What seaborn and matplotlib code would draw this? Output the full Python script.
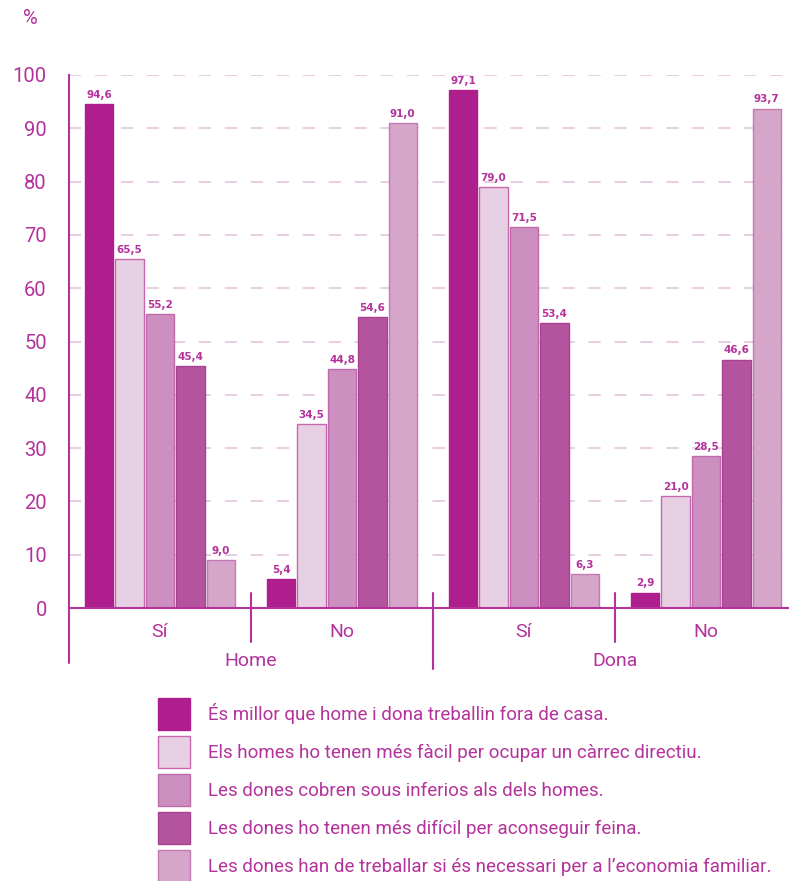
import matplotlib
matplotlib.use("Agg")
import matplotlib.pyplot as plt
import matplotlib.transforms as mtransforms
from matplotlib.patches import Patch
import seaborn as sns
import pandas as pd

groups = ["Home Sí", "Home No", "Dona Sí", "Dona No"]
tick_labels = ["Sí", "No", "Sí", "No"]
sex_labels = ["Home", "Dona"]
statements = [
    "És millor que home i dona treballin fora de casa.",
    "Els homes ho tenen més fàcil per ocupar un càrrec directiu.",
    "Les dones cobren sous inferios als dels homes.",
    "Les dones ho tenen més difícil per aconseguir feina.",
    "Les dones han de treballar si és necessari per a l’economia familiar.",
]
s1 = [94.6, 5.4, 97.1, 2.9]
s2 = [65.5, 34.5, 79.0, 21.0]
s3 = [55.2, 44.8, 71.5, 28.5]
s4 = [45.4, 54.6, 53.4, 46.6]
s5 = [9.0, 91.0, 6.3, 93.7]
series = [s1, s2, s3, s4, s5]

colors = ["#ae1f8d", "#e8d0e4", "#cd8fbf", "#b4549e", "#d5a6ca"]
edges = ["#ae1f8d", "#c765ad", "#c068ac", "#a8418f", "#c27ab4"]
txt = "#b4329b"

rows = []
for st, vals in zip(statements, series):
    for g, v in zip(groups, vals):
        rows.append({"grup": g, "afirmacio": st, "valor": v})
df = pd.DataFrame(rows)

sns.set_style("white")
plt.rcParams["font.family"] = ["Roboto", "DejaVu Sans"]

W, H = 789, 881
fig = plt.figure(figsize=(W / 100, H / 100), dpi=100)
ax = fig.add_axes([69 / W, (H - 608) / H, 728 / W, 533 / H])

sns.barplot(data=df, x="grup", y="valor", hue="afirmacio", order=groups,
            hue_order=statements, palette=colors, width=0.835, gap=0.07,
            saturation=1, legend=False, ax=ax, linewidth=1)

for cont, ec in zip(ax.containers, edges):
    for p in cont:
        p.set_edgecolor(ec)
    ax.bar_label(cont, labels=[f"{p.get_height():.1f}".replace(".", ",") for p in cont],
                 padding=3, fontsize=7.5, fontweight="bold", color=txt,
                 family=["DejaVu Sans"])

ax.set_xlim(-0.5, 3.5)
ax.set_ylim(0, 100)
ax.set_yticks(range(0, 101, 10))
ax.set_yticklabels([str(v) for v in range(0, 101, 10)])
ax.set_xticks(range(4))
ax.set_xticklabels(tick_labels)
ax.set_xlabel("")
ax.set_ylabel("")

ax.tick_params(axis="y", direction="in", length=10, width=1.5, color=txt,
               labelcolor=txt, labelsize=14.5, pad=16)
ax.tick_params(axis="x", length=0, labelcolor=txt, labelsize=14, pad=11)
ax.set_axisbelow(True)
ax.yaxis.grid(True, color="#e2bedb", linewidth=1.1, linestyle=(0, (8, 9)))
ax.xaxis.grid(False)

for side in ["top", "right"]:
    ax.spines[side].set_visible(False)
for side in ["left", "bottom"]:
    ax.spines[side].set_color(txt)
    ax.spines[side].set_linewidth(1.5)

trans = mtransforms.blended_transform_factory(ax.transData, ax.transAxes)
ax.plot([-0.5, -0.5], [0, -0.103], color=txt, lw=1.5, transform=trans, clip_on=False)
for xs, y0, y1 in [(0.5, 0.028, -0.064), (1.5, 0.028, -0.114), (2.5, 0.028, -0.064)]:
    ax.plot([xs, xs], [y0, y1], color=txt, lw=1.5, transform=trans, clip_on=False)
for xc, lab in zip([0.5, 2.5], sex_labels):
    ax.text(xc, -0.1, lab, transform=trans, ha="center", va="center",
            color=txt, fontsize=14)

fig.text(30 / W, 1 - 19 / H, "%", ha="center", va="center", color=txt, fontsize=14.5)

handles = [Patch(facecolor=c, edgecolor=e, linewidth=1) for c, e in zip(colors, edges)]
fig.legend(handles, statements, loc="upper left",
           bbox_to_anchor=(158 / W, 1 - 698 / H), frameon=False, borderpad=0,
           borderaxespad=0,
           handlelength=1.7, handleheight=2.25, handletextpad=0.96,
           labelspacing=0.32, fontsize=13.5, labelcolor=txt)

fig.savefig("out.png", dpi=100)
